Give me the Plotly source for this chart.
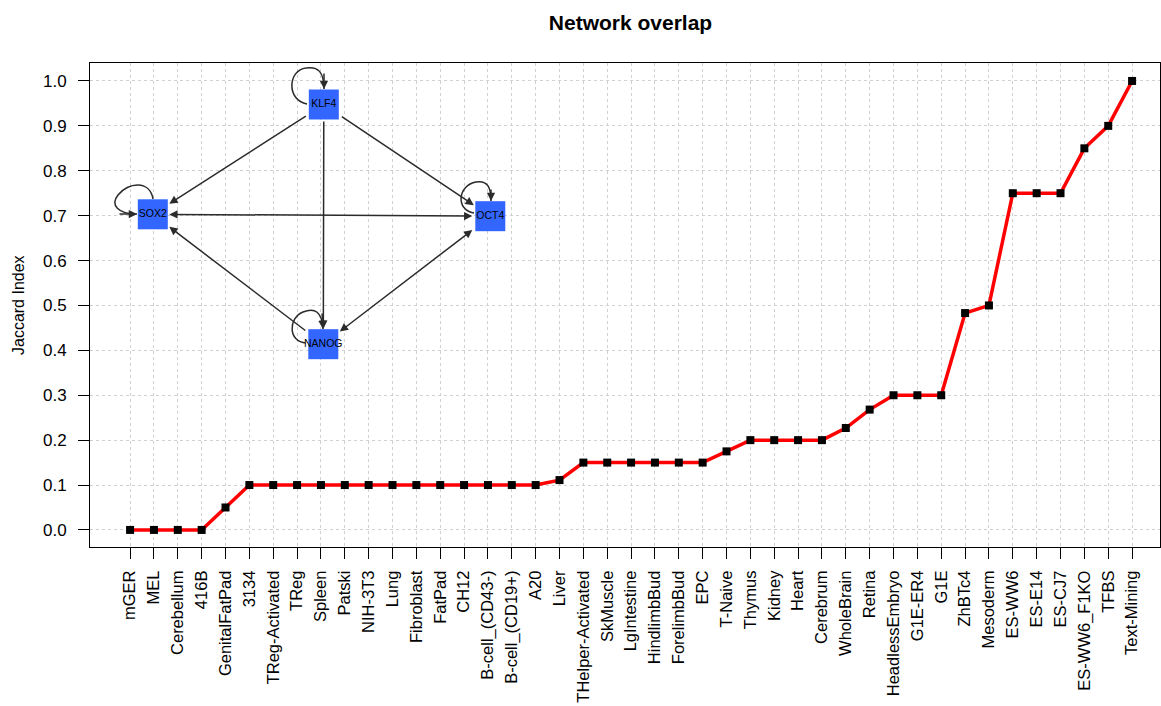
import plotly.graph_objects as go

# ---------------- data ----------------
categories = [
    "mGER", "MEL", "Cerebellum", "416B", "GenitalFatPad", "3134", "TReg-Activated",
    "TReg", "Spleen", "Patski", "NIH-3T3", "Lung", "Fibroblast", "FatPad", "CH12",
    "B-cell_(CD43-)", "B-cell_(CD19+)", "A20", "Liver", "THelper-Activated", "SkMuscle",
    "LgIntestine", "HindlimbBud", "ForelimbBud", "EPC", "T-Naive", "Thymus", "Kidney",
    "Heart", "Cerebrum", "WholeBrain", "Retina", "HeadlessEmbryo", "G1E-ER4", "G1E",
    "ZhBTc4", "Mesoderm", "ES-WW6", "ES-E14", "ES-CJ7", "ES-WW6_F1KO", "TFBS", "Text-Mining",
]
jaccard = [
    0.0, 0.0, 0.0, 0.0, 0.05, 0.1, 0.1,
    0.1, 0.1, 0.1, 0.1, 0.1, 0.1, 0.1, 0.1,
    0.1, 0.1, 0.1, 0.111, 0.15, 0.15,
    0.15, 0.15, 0.15, 0.15, 0.175, 0.2, 0.2,
    0.2, 0.2, 0.227, 0.268, 0.3, 0.3, 0.3,
    0.483, 0.5, 0.75, 0.75, 0.75, 0.85, 0.9, 1.0,
]
y_ticks = [0.0, 0.1, 0.2, 0.3, 0.4, 0.5, 0.6, 0.7, 0.8, 0.9, 1.0]

# network inset (gene regulatory network)
node_names = ["KLF4", "SOX2", "OCT4", "NANOG"]
edges = [  # (source, target, bidirectional)
    ("KLF4", "SOX2", False),
    ("KLF4", "OCT4", False),
    ("KLF4", "NANOG", False),
    ("OCT4", "SOX2", True),
    ("NANOG", "SOX2", False),
    ("OCT4", "NANOG", True),
]

# ---------------- layout of inset (pixel coordinates) ----------------
node_pos = {"KLF4": (323.8, 104.5), "SOX2": (152.8, 214.3),
            "OCT4": (490.3, 216.2), "NANOG": (323.3, 344.2)}
NODE_W, NODE_H = 31, 29
loops = {  # cubic bezier paths, arrow tip at the end
    "KLF4": [(307, 104), (286, 100), (288, 70), (306, 68), (318, 66), (324, 72), (324, 89)],
    "SOX2": [(153, 199), (150, 180), (128, 182), (118, 195), (110, 205), (118, 214), (137, 214)],
    "OCT4": [(474, 213), (455, 210), (458, 185), (476, 182), (488, 180), (491, 188), (491, 201)],
    "NANOG": [(306, 343), (288, 342), (288, 318), (303, 312), (315, 307), (322, 312), (323, 329)],
}

FONT = "Liberation Sans, Arial, Helvetica, sans-serif"
EDGE_COLOR = "#2b2b2b"
NODE_COLOR = "#3366ff"

fig = go.Figure()

fig.add_trace(go.Scatter(
    x=categories, y=jaccard, mode="lines+markers",
    line=dict(color="#ff0000", width=3.5),
    marker=dict(symbol="square", size=8, color="black"),
    showlegend=False, hoverinfo="x+y",
))

# network nodes on overlay axes (pixel-like coordinates)
fig.add_trace(go.Scatter(
    x=[node_pos[n][0] for n in node_names],
    y=[node_pos[n][1] for n in node_names],
    text=node_names, mode="markers+text", textposition="middle center",
    marker=dict(symbol="square", size=30, color=NODE_COLOR,
                line=dict(color=NODE_COLOR, width=0)),
    textfont=dict(family=FONT, size=10.5, color="black"),
    xaxis="x2", yaxis="y2", showlegend=False, hoverinfo="text",
))


def box_exit(cx, cy, dx, dy):
    hw, hh = NODE_W / 2 + 1, NODE_H / 2 + 1
    tx = hw / abs(dx) if dx else 1e9
    ty = hh / abs(dy) if dy else 1e9
    t = min(tx, ty)
    return cx + dx * t, cy + dy * t


shapes = []
annotations = []

# loops
for n, p in loops.items():
    path = f"M {p[0][0]},{p[0][1]} C {p[1][0]},{p[1][1]} {p[2][0]},{p[2][1]} {p[3][0]},{p[3][1]} " \
           f"C {p[4][0]},{p[4][1]} {p[5][0]},{p[5][1]} {p[6][0]},{p[6][1]}"
    shapes.append(dict(type="path", path=path, xref="x2", yref="y2",
                       line=dict(color=EDGE_COLOR, width=1.5)))
    annotations.append(dict(x=p[6][0], y=p[6][1], ax=p[5][0], ay=p[5][1],
                            xref="x2", yref="y2", axref="x2", ayref="y2", text="",
                            showarrow=True, arrowhead=2, arrowsize=1.1, arrowwidth=1.5,
                            arrowcolor=EDGE_COLOR))

# edges
for s, t, both in edges:
    sx, sy = node_pos[s]
    tx, ty = node_pos[t]
    dx, dy = tx - sx, ty - sy
    x0, y0 = box_exit(sx, sy, dx, dy)
    x1, y1 = box_exit(tx, ty, -dx, -dy)
    annotations.append(dict(x=x1, y=y1, ax=x0, ay=y0, xref="x2", yref="y2",
                            axref="x2", ayref="y2", text="", showarrow=True,
                            arrowhead=2, startarrowhead=2, arrowsize=1.1, startarrowsize=1.1,
                            arrowwidth=1.5, arrowcolor=EDGE_COLOR,
                            arrowside="end+start" if both else "end"))

# y-axis title (paper coordinates, left of the plot area)
annotations.append(dict(x=(18 - 90) / 1070, y=0.5, xref="paper", yref="paper",
                        xanchor="center", yanchor="middle", text="Jaccard Index",
                        textangle=-90, showarrow=False,
                        font=dict(family=FONT, size=16, color="black")))

fig.update_layout(
    width=1161, height=706, autosize=False,
    margin=dict(l=90, r=1, t=63, b=159, autoexpand=False),
    paper_bgcolor="white", plot_bgcolor="white",
    font=dict(family=FONT, size=17, color="black"),
    title=dict(text="<b>Network overlap</b>", x=630.5 / 1161, xref="container",
               xanchor="center", y=1 - 22.5 / 706, yanchor="middle", yref="container",
               font=dict(family=FONT, size=21, color="black")),
    xaxis=dict(
        type="category", range=[-1.68, 43.17], automargin=False,
        showline=True, mirror=True, linecolor="black", linewidth=1,
        ticks="outside", ticklen=11, tickcolor="black", tickwidth=1,
        tickangle=-90, tickfont=dict(family=FONT, size=16.5, color="black"),
        showgrid=True, gridcolor="#d0d0d0", griddash="dot", gridwidth=1,
        zeroline=False, ticklabelstandoff=5,
    ),
    yaxis=dict(
        range=[-0.038, 1.04], tickvals=y_ticks, tickformat=".1f", automargin=False,
        showline=True, mirror=True, linecolor="black", linewidth=1,
        ticks="outside", ticklen=11, tickcolor="black", tickwidth=1,
        tickfont=dict(family=FONT, size=17, color="black"),
        showgrid=True, gridcolor="#d0d0d0", griddash="dot", gridwidth=1,
        zeroline=False, ticklabelstandoff=8,
    ),
    xaxis2=dict(overlaying="x", range=[90, 1160], visible=False, fixedrange=True),
    yaxis2=dict(overlaying="y", anchor="x2", range=[547, 63], visible=False, fixedrange=True),
    shapes=shapes,
    annotations=annotations,
)

fig.write_html("out.html", config={"displayModeBar": False},
               post_script="document.body.style.margin='0';document.body.style.overflow='hidden';")
